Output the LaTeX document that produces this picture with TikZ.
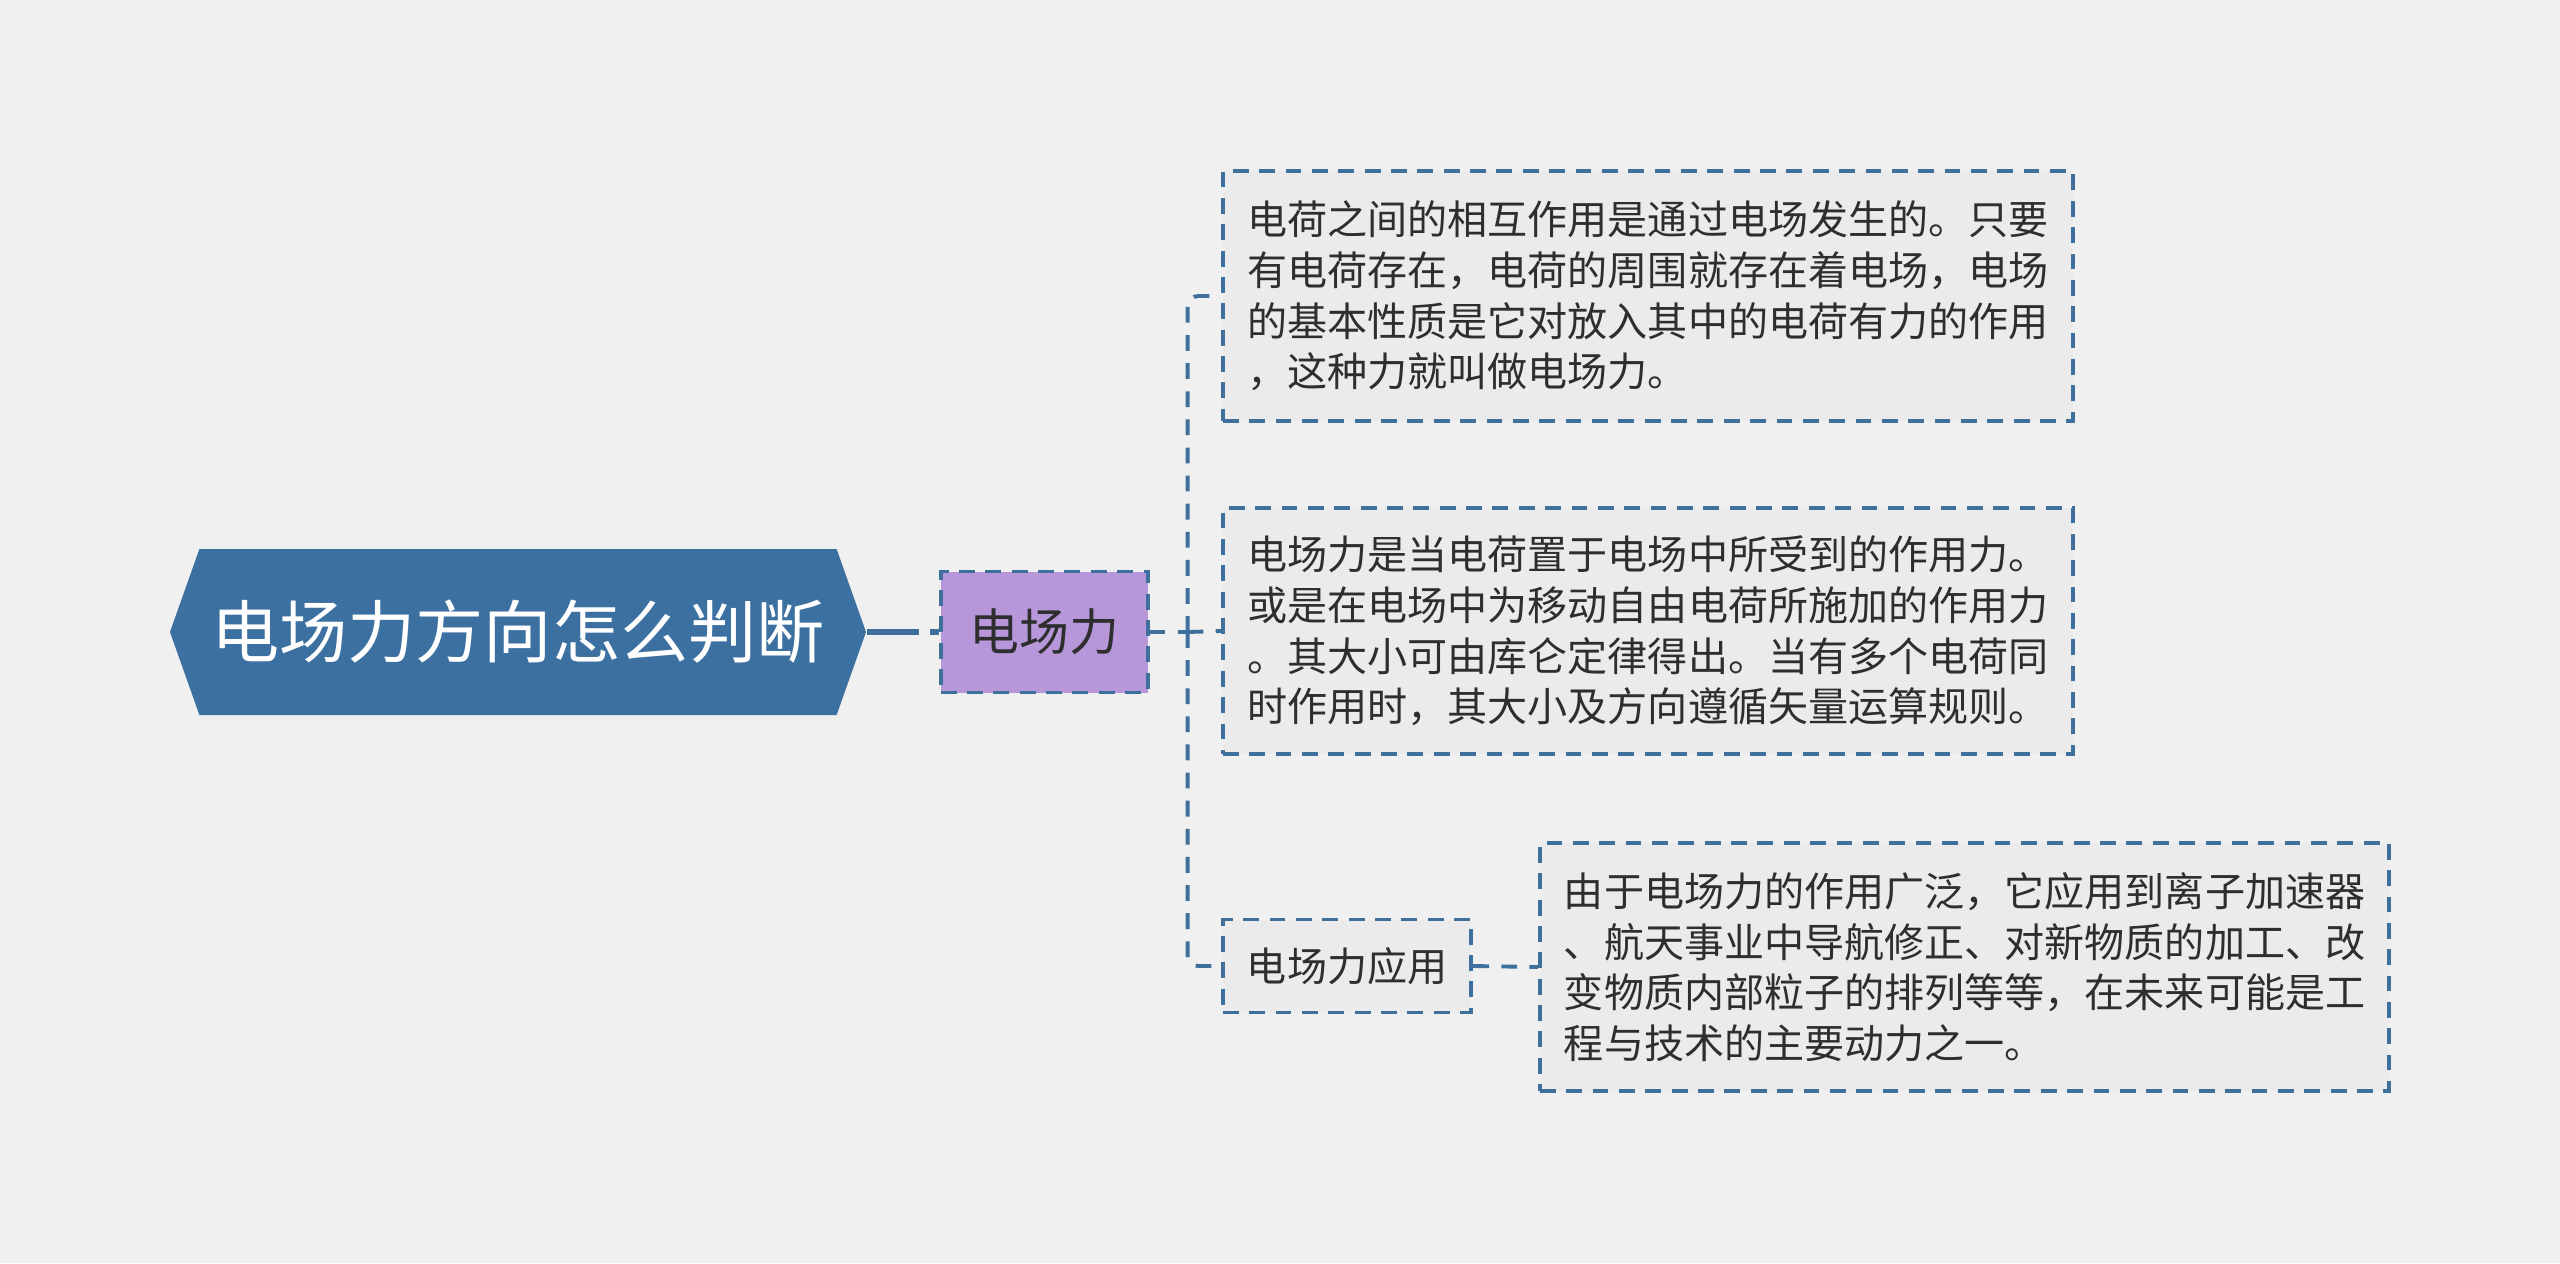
\documentclass[tikz,border=0pt]{standalone}
\usepackage{fontspec}
\newfontfamily\cjk{Noto Sans CJK SC}
\usetikzlibrary{shapes.symbols,positioning}
\definecolor{bgcol}{HTML}{F0F0F0}
\definecolor{rootblue}{HTML}{3B70A1}
\definecolor{lineblue}{HTML}{3F6F9B}
\definecolor{topicpurple}{HTML}{B797DA}
\definecolor{boxgray}{HTML}{EBEBEB}
\definecolor{txtgray}{HTML}{2E2E2E}
\newcommand*\leaffont{\cjk\fontsize{11.4pt}{14.4pt}\selectfont}

\begin{document}
\begin{tikzpicture}[
  rootnode/.style={shape=signal,signal to=west and east,signal pointer angle=141,
    fill=rootblue,text=white,inner sep=0pt,
    minimum width=6.96cm,minimum height=1.66cm,
    font=\cjk\fontsize{19.4pt}{23pt}\selectfont},
  topicnode/.style={shape=rectangle,fill=topicpurple,draw=lineblue,line width=1.1pt,
    dash pattern=on 4.5pt off 3pt,text=txtgray,inner sep=0pt,
    minimum width=2.07cm,minimum height=1.21cm,
    font=\cjk\fontsize{14.2pt}{17pt}\selectfont},
  leafnode/.style={shape=rectangle,fill=boxgray,draw=lineblue,line width=1.1pt,
    dash pattern=on 4.5pt off 3pt,text=txtgray,align=left,anchor=west,
    inner xsep=0.24cm,inner ysep=0pt,font=\leaffont},
  link/.style={draw=lineblue,line width=1.1pt,dash pattern=on 4.5pt off 3.5pt,rounded corners=3pt},
  mainlink/.style={draw=lineblue,line width=1.9pt,dash pattern=on 15pt off 3pt}
]
  \fill[bgcol] (0,0) rectangle (25.6,-12.63);
  \useasboundingbox (0,0) rectangle (25.6,-12.63);

  \node (root) [rootnode] at (5.18,-6.32) {电场力方向怎么判断};
  \node (topic) [topicnode] [right=0.72cm of root] {电场力};
  \coordinate (fork) at ([xshift=0.38cm]topic.east);

  \node (nature) [leafnode,minimum width=8.5cm,minimum height=2.5cm] at (12.21,-2.96) {
    电荷之间的相互作用是通过电场发生的。只要\\
    有电荷存在，电荷的周围就存在着电场，电场\\
    的基本性质是它对放入其中的电荷有力的作用\\
    ，这种力就叫做电场力。};
  \node (define) [leafnode,minimum width=8.5cm,minimum height=2.46cm] at (12.21,-6.31) {
    电场力是当电荷置于电场中所受到的作用力。\\
    或是在电场中为移动自由电荷所施加的作用力\\
    。其大小可由库仑定律得出。当有多个电荷同\\
    时作用时，其大小及方向遵循矢量运算规则。};
  \node (usage) [leafnode,minimum width=2.44cm,minimum height=0.93cm] at (12.21,-9.66) {电场力应用};
  \node (usagetext) [leafnode,minimum width=8.49cm,minimum height=2.48cm] at (15.38,-9.67) {
    由于电场力的作用广泛，它应用到离子加速器\\
    、航天事业中导航修正、对新物质的加工、改\\
    变物质内部粒子的排列等等，在未来可能是工\\
    程与技术的主要动力之一。};

  \draw[mainlink] (root.east) -- (topic.west);
  \draw[link] (topic.east) -- (fork);
  \draw[link] (fork) |- (nature.west);
  \draw[link] (fork) -- (define.west);
  \draw[link] (fork) |- (usage.west);
  \draw[link] (usage.east) -- (usagetext.west);
\end{tikzpicture}
\end{document}
